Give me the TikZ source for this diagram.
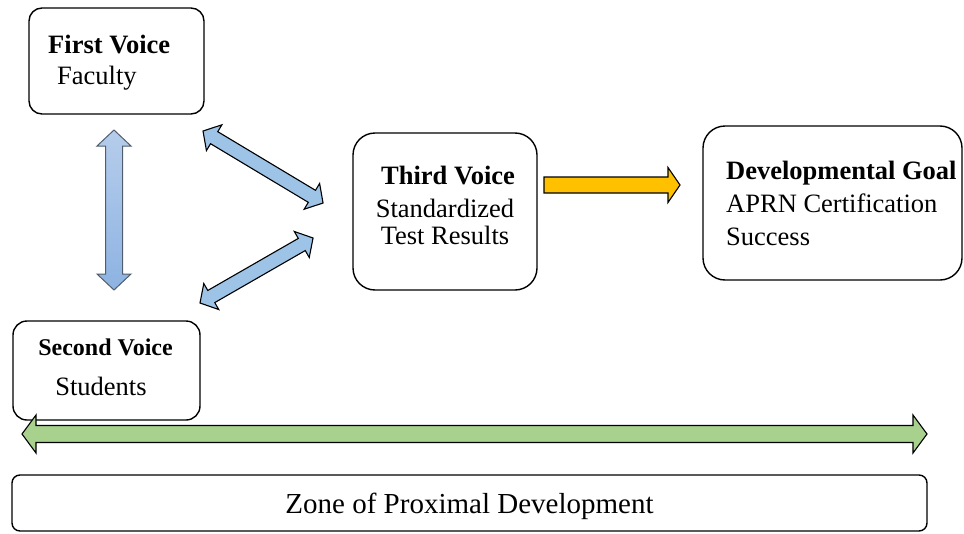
\documentclass[tikz,border=0pt]{standalone}
\usepackage{fontspec}
\setmainfont{Liberation Serif}
\definecolor{diagblue}{HTML}{9DC3E6}
\definecolor{vtop}{HTML}{B6CDEB}
\definecolor{vbot}{HTML}{8DB3E2}
\definecolor{vline}{HTML}{4F5D6C}
\definecolor{arryellow}{HTML}{FFC000}
\definecolor{arrgreen}{HTML}{A9D18E}
\newcommand\fsA{\fontsize{26.5}{30}\selectfont}
\newcommand\fsB{\fontsize{24}{28}\selectfont}
\newcommand\fsC{\fontsize{29}{33}\selectfont}
% double block arrow: #1 style, #2 start coordinate, #3 angle, #4 length, #5 half shaft, #6 half head, #7 head length
\newcommand\dblarrow[7]{%
  \begin{scope}[shift={(#2)}, rotate=#3]
    \draw[#1] (0,0) -- (#7,#6) -- (#7,#5) -- ({#4-#7},#5) -- ({#4-#7},#6) -- (#4,0)
      -- ({#4-#7},-#6) -- ({#4-#7},-#5) -- (#7,-#5) -- (#7,-#6) -- cycle;
  \end{scope}}
\newcommand\sglarrow[7]{%
  \begin{scope}[shift={(#2)}, rotate=#3]
    \draw[#1] (0,#5) -- ({#4-#7},#5) -- ({#4-#7},#6) -- (#4,0)
      -- ({#4-#7},-#6) -- ({#4-#7},-#5) -- (0,-#5) -- cycle;
  \end{scope}}
\begin{document}
\begin{tikzpicture}[x=1pt,y=-1pt,
  box/.style={draw=black, line width=1.4pt, rounded corners=#1, inner sep=0pt},
  lbl/.style={inner sep=0pt, anchor=base west, font=\fsA},
  lblc/.style={inner sep=0pt, anchor=base, font=\fsA},
  blockarr/.style={draw=black, line width=1.1pt, line join=miter}]
\useasboundingbox (0,0) rectangle (964,533);

% boxes
\node[box=13pt, minimum width=175pt, minimum height=106pt] (first) at (116.5,61) {};
\node[box=22pt, minimum width=184pt, minimum height=157pt] (third) at (445,211.5) {};
\node[box=22pt, minimum width=259pt, minimum height=154pt] (goal) at (832.5,203) {};
\node[box=14pt, minimum width=187pt, minimum height=99pt] (second) at (106.5,370.5) {};
\node[box=8pt, minimum width=915pt, minimum height=56pt] (zone) at (469.5,503) {};

% texts
\node[lbl, font=\fsA\bfseries] (firstT) at (48,53) {First Voice};
\node[lbl] (firstS) at (57,84) {Faculty};
\node[lblc, font=\fsA\bfseries] (thirdT) at (448,184) {Third Voice};
\node[lblc] (thirdS1) at (445,217) {Standardized};
\node[lblc] (thirdS2) at (445,244) {Test Results};
\node[lbl, font=\fsA\bfseries] (goalT) at (726,179) {Developmental Goal};
\node[lbl] (goalS1) at (726,212) {APRN Certification};
\node[lbl] (goalS2) at (726,245) {Success};
\node[lblc, font=\fsB\bfseries] (secondT) at (105.5,355) {Second Voice};
\node[lblc, font=\fsA] (secondS) at (101,395) {Students};
\node[lblc, font=\fsC] (zoneT) at (469.5,513) {Zone of Proximal Development};

% arrow end points
\coordinate (upA) at (203,131);
\coordinate (loA) at (200,303);
\coordinate (yeA) at (544,185);
\coordinate (grA) at (22,434);

% vertical arrow (first <-> second)
\draw[draw=vline, line width=1pt, top color=vtop, bottom color=vbot]
  (114,130) -- (131,146) -- (122.5,146) -- (122.5,274) -- (131,274) -- (114,290)
  -- (97,274) -- (105.5,274) -- (105.5,146) -- (97,146) -- cycle;

% diagonal arrows (first <-> third, second <-> third)
\dblarrow{blockarr, fill=diagblue}{upA}{-30.96}{140}{7}{15}{13}
\dblarrow{blockarr, fill=diagblue}{loA}{29.9}{130.4}{7}{15}{13}

% yellow arrow (third -> goal)
\sglarrow{blockarr, fill=arryellow}{yeA}{0}{136}{8}{17.5}{12}

% green arrow
\dblarrow{blockarr, fill=arrgreen}{grA}{0}{905}{8.5}{19}{14}
\end{tikzpicture}
\end{document}
